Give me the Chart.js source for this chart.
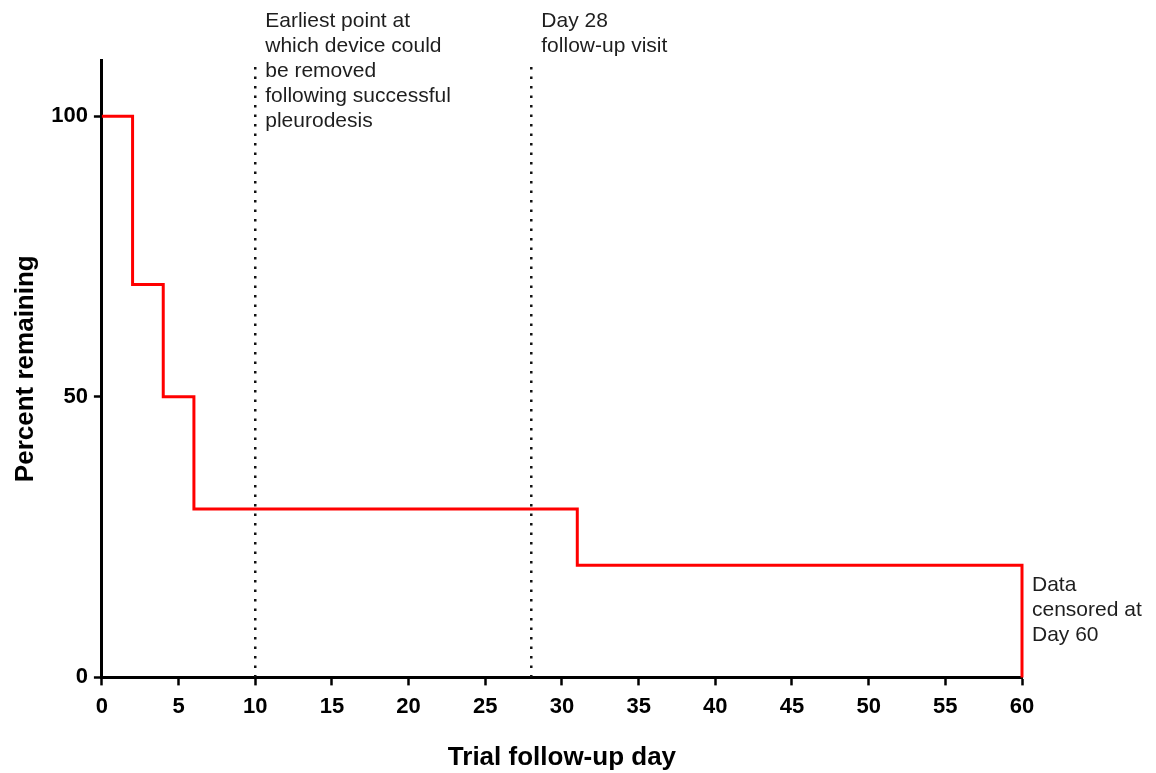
<!DOCTYPE html>
<html>
<head>
<meta charset="utf-8">
<script src="https://cdn.jsdelivr.net/npm/chart.js@4"></script>
<style>
  body { margin: 0; background: #fff; }
  #wrap { width: 1156px; height: 773px; }
</style>
</head>
<body>
<div id="wrap"><canvas id="kmChart"></canvas></div>
<script>
// survival curve (step), days vs percent remaining
const days = [0, 2, 4, 6, 31, 60, 60];
const percentRemaining = [100, 70, 50, 30, 20, 20, 0];

// reference lines
const markerDays = [10, 28];
const yTicks = [0, 50, 100];

// annotation text, anchored to data positions
const notes = [
  { x: 10, y: 110, lines: ['Earliest point at', 'which device could', 'be removed', 'following successful', 'pleurodesis'] },
  { x: 28, y: 110, lines: ['Day 28', 'follow-up visit'] },
  { x: 60, y: 20, lines: ['Data', 'censored at', 'Day 60'] }
];

const FONT = "'Liberation Sans', Arial, sans-serif";

const notesPlugin = {
  id: 'notes',
  afterDatasetsDraw(chart) {
    const { ctx, scales: { x, y } } = chart;
    ctx.save();
    ctx.fillStyle = '#1e1e1e';
    ctx.font = '21px ' + FONT;
    ctx.textBaseline = 'middle';
    notes.forEach((n, i) => {
      const px = x.getPixelForValue(n.x) + 10;
      let py = y.getPixelForValue(n.y) - 39;
      if (i === 2) py = y.getPixelForValue(n.y) + 20;
      n.lines.forEach((t, k) => ctx.fillText(t, px, py + k * 25));
    });
    ctx.restore();
  }
};

new Chart(document.getElementById('kmChart'), {
  type: 'line',
  data: {
    datasets: [
      {
        label: 'Percent remaining',
        data: days.map((d, i) => ({ x: d, y: percentRemaining[i] })),
        stepped: 'before',
        borderColor: '#ff0000',
        borderWidth: 3,
        pointRadius: 0,
        fill: false,
        clip: 4
      },
      ...markerDays.map(d => ({
        label: 'Day ' + d,
        data: [{ x: d, y: 0 }, { x: d, y: 110 }],
        borderColor: '#111',
        borderWidth: 2.5,
        borderDash: [2.5, 7],
        pointRadius: 0,
        fill: false
      }))
    ]
  },
  options: {
    responsive: true,
    maintainAspectRatio: false,
    animation: false,
    layout: { padding: { top: 60, right: 134, left: 0, bottom: 0 } },
    plugins: { legend: { display: false }, tooltip: { enabled: false } },
    scales: {
      x: {
        type: 'linear',
        min: 0,
        max: 60,
        ticks: { stepSize: 5, color: '#000', font: { family: FONT, size: 22, weight: 'bold' }, padding: 8 },
        grid: { drawOnChartArea: false, tickLength: 8, tickColor: '#000', tickWidth: 2.5 },
        border: { color: '#000', width: 3 },
        title: { display: true, text: 'Trial follow-up day', color: '#000', font: { family: FONT, size: 26, weight: 'bold' }, padding: { top: 14, bottom: 0 } }
      },
      y: {
        min: 0,
        max: 110,
        afterBuildTicks: s => { s.ticks = yTicks.map(v => ({ value: v })); },
        ticks: { color: '#000', font: { family: FONT, size: 22, weight: 'bold' }, padding: 6 },
        grid: { drawOnChartArea: false, tickLength: 8, tickColor: '#000', tickWidth: 2.5 },
        border: { color: '#000', width: 3 },
        title: { display: true, text: 'Percent remaining', color: '#000', font: { family: FONT, size: 26, weight: 'bold' }, padding: { top: 10, bottom: 4 } }
      }
    }
  },
  plugins: [notesPlugin]
});
</script>
</body>
</html>
